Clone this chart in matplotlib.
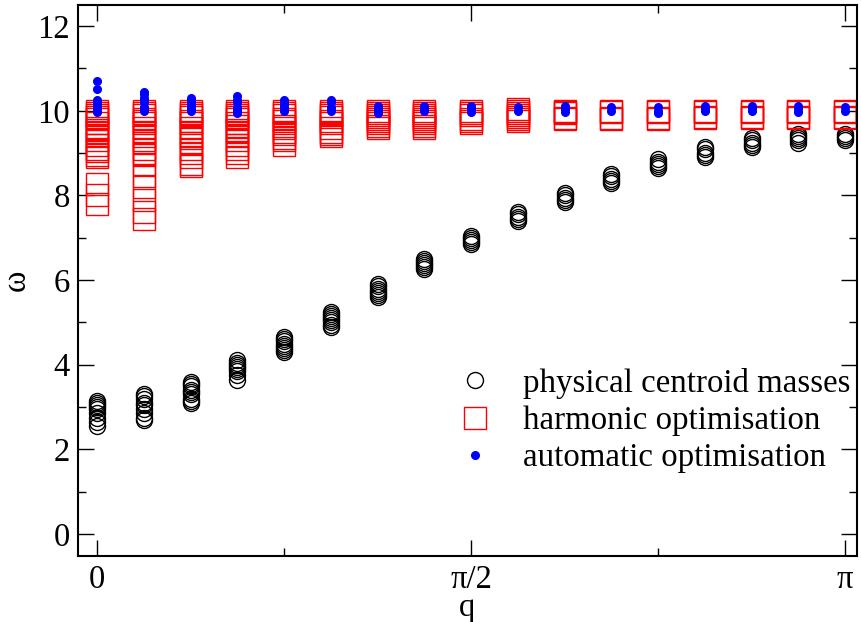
import numpy as np
import matplotlib
matplotlib.use("Agg")
from matplotlib import pyplot as plt
from matplotlib.ticker import FixedLocator, MultipleLocator

plt.rcParams['font.family'] = ['Liberation Serif', 'DejaVu Serif']

#
# Momentum grid: q = 0 ... pi in steps of pi/16
#
q = np.arange(17) * np.pi / 16

# centroid masses (one list per q)
centroid = [
    [3.15, 3.1, 3.05, 3.0, 2.95, 2.85, 2.75, 2.65, 2.55],
    [3.3, 3.25, 3.2, 3.1, 3.05, 2.95, 2.85, 2.75, 2.7],
    [3.6, 3.55, 3.5, 3.4, 3.35, 3.3, 3.2, 3.15, 3.1],
    [4.1, 4.05, 4.0, 3.95, 3.9, 3.85, 3.75, 3.65],
    [4.65, 4.6, 4.55, 4.5, 4.45, 4.4, 4.35, 4.3],
    [5.25, 5.2, 5.15, 5.1, 5.05, 5.0, 4.95, 4.9],
    [5.9, 5.85, 5.8, 5.75, 5.7, 5.65, 5.6],
    [6.5, 6.45, 6.4, 6.35, 6.3, 6.25],
    [7.05, 7.0, 6.95, 6.9, 6.85],
    [7.6, 7.55, 7.5, 7.45, 7.4],
    [8.05, 8.0, 7.95, 7.9, 7.85],
    [8.5, 8.45, 8.4, 8.35, 8.3],
    [8.85, 8.8, 8.75, 8.7, 8.65],
    [9.15, 9.1, 9.0, 8.95, 8.9],
    [9.35, 9.3, 9.25, 9.2, 9.15],
    [9.45, 9.4, 9.35, 9.3, 9.25],
    [9.45, 9.4, 9.35, 9.3],
]

# harmonic optimisation
harmonic = [
    [10.0, 9.95, 9.9, 9.85, 9.8, 9.7, 9.6, 9.55, 9.5, 9.4, 9.3, 9.2, 9.1,
     9.05, 8.95, 8.9, 8.27, 8.0, 7.8],
    [10.0, 9.95, 9.9, 9.8, 9.75, 9.7, 9.6, 9.5, 9.4, 9.3, 9.25, 9.1, 9.0,
     8.95, 8.75, 8.45, 8.2, 7.9, 7.6, 7.45],
    [10.0, 9.95, 9.9, 9.85, 9.75, 9.7, 9.6, 9.5, 9.4, 9.35, 9.25, 9.1, 9.0,
     8.9, 8.75, 8.7],
    [10.0, 9.95, 9.9, 9.85, 9.8, 9.7, 9.65, 9.55, 9.5, 9.4, 9.3, 9.2, 9.1,
     9.0, 8.9],
    [10.0, 9.95, 9.9, 9.8, 9.75, 9.65, 9.6, 9.5, 9.45, 9.35, 9.3, 9.2],
    [10.0, 9.95, 9.9, 9.85, 9.75, 9.7, 9.6, 9.5, 9.45, 9.4],
    [10.0, 9.95, 9.9, 9.85, 9.8, 9.75, 9.7, 9.65, 9.6],
    [10.0, 9.95, 9.9, 9.85, 9.8, 9.75, 9.7, 9.65, 9.6],
    [10.0, 9.95, 9.9, 9.8, 9.75, 9.7],
    [10.05, 10.0, 9.95, 9.9, 9.85, 9.8, 9.75],
    [10.0, 9.97, 9.95, 9.82, 9.8],
    [10.0, 9.97, 9.82, 9.8],
    [10.0, 9.97, 9.83, 9.8],
    [10.0, 9.97, 9.85, 9.82],
    [10.0, 9.97, 9.85, 9.82],
    [10.0, 9.97, 9.85, 9.82],
    [10.0, 9.97, 9.85, 9.82],
]

# automatic optimisation
automatic = [
    [10.7, 10.52, 10.25, 10.2, 10.15, 10.1, 10.05, 10.0, 9.98],
    [10.45, 10.4, 10.3, 10.25, 10.2, 10.1, 10.05, 10.0],
    [10.3, 10.25, 10.2, 10.15, 10.1, 10.05, 10.0],
    [10.35, 10.25, 10.2, 10.1, 10.05, 10.0, 9.95],
    [10.25, 10.2, 10.15, 10.1, 10.05, 10.0],
    [10.25, 10.2, 10.1, 10.05, 10.0],
    [10.12, 10.05, 10.0, 9.95],
    [10.12, 10.05, 10.0],
    [10.12, 10.05, 9.98],
    [10.08, 10.0],
    [10.12, 10.05, 9.98],
    [10.08, 10.0],
    [10.08, 10.0, 9.95],
    [10.12, 10.05, 10.0],
    [10.12, 10.05, 10.0],
    [10.12, 10.05, 9.98],
    [10.08, 10.0],
]


def flat(sets):
    xs = np.concatenate([np.full(len(s), qq) for qq, s in zip(q, sets)])
    ys = np.concatenate([np.asarray(s, float) for s in sets])
    return xs, ys


fig = plt.figure(figsize=(8.61, 6.22), dpi=100)
ax = fig.add_axes([78 / 861, 66 / 622, 779 / 861, 551 / 622])

x, y = flat(centroid)
ax.plot(x, y, 'o', ls='none', mfc='none', mec='black', mew=1.0, ms=11.5,
        label='physical centroid masses')
x, y = flat(harmonic)
ax.plot(x, y, 's', ls='none', mfc='none', mec='red', mew=1.0, ms=15.5,
        label='harmonic optimisation')
x, y = flat(automatic)
ax.plot(x, y, 'o', ls='none', mfc='blue', mec='blue', ms=5.5,
        label='automatic optimisation')

ax.set_xlim(-0.08, np.pi + 0.05)
ax.set_ylim(-0.52, 12.5)

ax.xaxis.set_major_locator(FixedLocator([0, np.pi / 2, np.pi]))
ax.set_xticklabels(['0', 'π/2', 'π'])
ax.xaxis.set_minor_locator(FixedLocator([np.pi / 4, 3 * np.pi / 4]))
ax.yaxis.set_major_locator(MultipleLocator(2))
ax.yaxis.set_minor_locator(MultipleLocator(1))

ax.tick_params(which='both', direction='in', top=True, right=True,
               labelsize=23.5, width=1.0)
ax.tick_params(which='major', length=11.5, pad=6)
ax.tick_params(which='minor', length=6)
for sp in ax.spines.values():
    sp.set_linewidth(1.5)

ax.set_xlabel('q', fontsize=23.5, labelpad=-2)
ax.set_ylabel('ω', fontsize=23.5, labelpad=4)

ax.legend(loc='upper left', bbox_to_anchor=(452 / 861, 1 - 368 / 622),
          bbox_transform=fig.transFigure, frameon=False, fontsize=23.7,
          handlelength=1.4, handletextpad=0.75, labelspacing=0.2,
          borderpad=0, borderaxespad=0)

fig.savefig('out.png', dpi=100)
